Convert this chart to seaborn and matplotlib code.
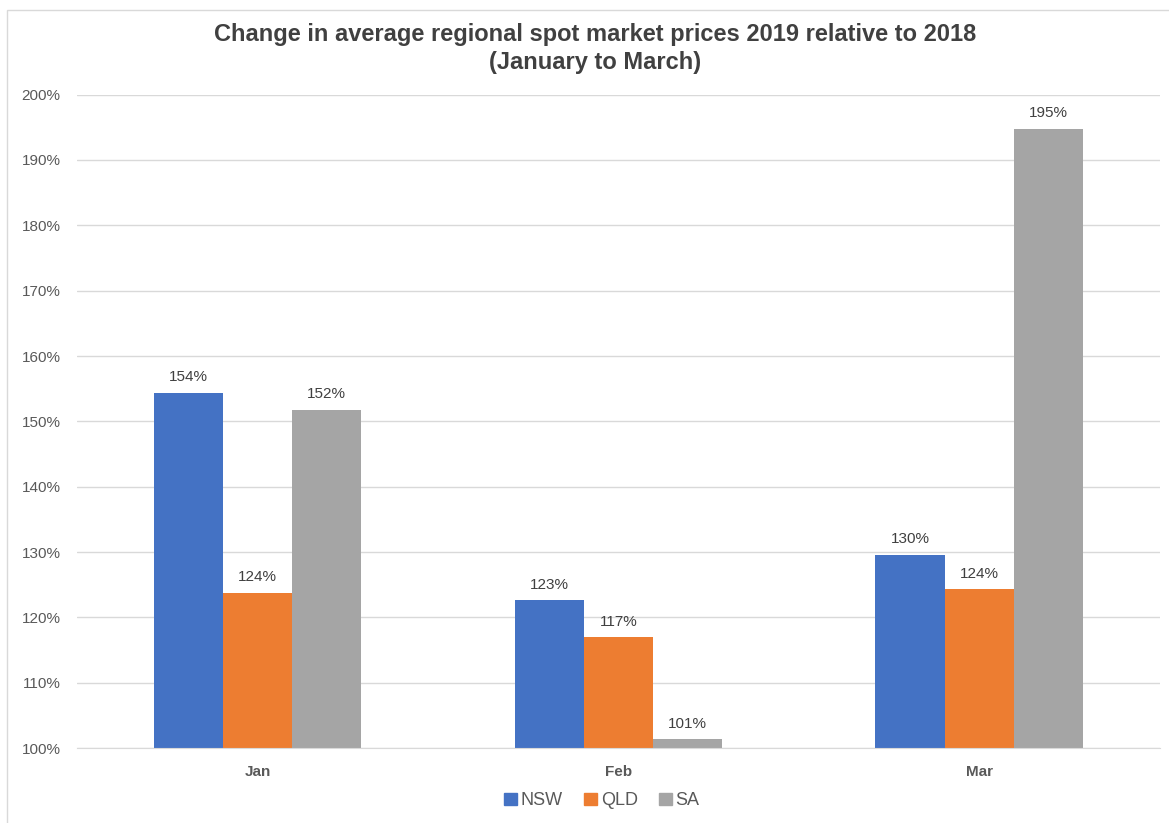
import matplotlib
matplotlib.use("Agg")
from matplotlib import pyplot as plt
from matplotlib.patches import Rectangle
import seaborn as sns
import pandas as pd

months = ['Jan', 'Feb', 'Mar']
regions = ['NSW', 'QLD', 'SA']
nsw = [154.4, 122.6, 129.6]
qld = [123.8, 117.0, 124.3]
sa = [151.8, 101.4, 194.8]
colors = ['#4472C4', '#ED7D31', '#A5A5A5']

df = pd.DataFrame({
    'month': months * 3,
    'region': [r for r in regions for _ in months],
    'value': nsw + qld + sa,
})

sns.set_style('white')
plt.rcParams['font.family'] = ['Liberation Sans', 'DejaVu Sans']

fig = plt.figure(figsize=(11.69, 8.23), dpi=100)
ax = fig.add_axes([0.066, 0.091, 0.926, 0.794])

sns.barplot(data=df, x='month', y='value', hue='region', order=months,
            hue_order=regions, palette=colors, width=0.575, gap=0,
            saturation=1, linewidth=0, ax=ax, legend=True)

ax.set_ylim(100, 200)
ax.set_xlim(-0.5, 2.5)
ax.set_yticks(range(100, 201, 10))
ax.set_yticklabels(['{}%'.format(v) for v in range(100, 201, 10)])
ax.yaxis.grid(True, color='#D9D9D9', linewidth=1)
ax.set_axisbelow(True)
for s in ['top', 'right', 'left']:
    ax.spines[s].set_visible(False)
ax.spines['bottom'].set_color('#D9D9D9')
ax.tick_params(axis='y', length=0, labelsize=11, colors='#595959', pad=12)
ax.tick_params(axis='x', length=0, labelsize=11, colors='#595959', pad=12)
for lb in ax.get_xticklabels():
    lb.set_fontweight('bold')
ax.set_xlabel(None)
ax.set_ylabel(None)

for cont in ax.containers:
    ax.bar_label(cont, labels=['{:.0f}%'.format(v) for v in cont.datavalues],
                 padding=6, fontsize=11, color='#404040')

ax.get_legend().remove()
handles = [Rectangle((0, 0), 1, 1, color=c) for c in colors]
fig.legend(handles, regions, loc='center', bbox_to_anchor=(0.515, 0.027),
           ncol=3, frameon=False, fontsize=13, handlelength=0.7,
           handleheight=0.7, handletextpad=0.2, columnspacing=1.2,
           labelcolor='#595959')

fig.text(0.509, 0.941, 'Change in average regional spot market prices 2019 relative to 2018\n(January to March)',
         ha='center', va='center', fontsize=17, fontweight='bold',
         color='#404040', linespacing=1.3)

fig.patches.append(Rectangle((0.006, -0.01), 1.1, 0.998, transform=fig.transFigure,
                             fill=False, edgecolor='#D9D9D9', linewidth=1))

fig.savefig('out.png', dpi=100)
